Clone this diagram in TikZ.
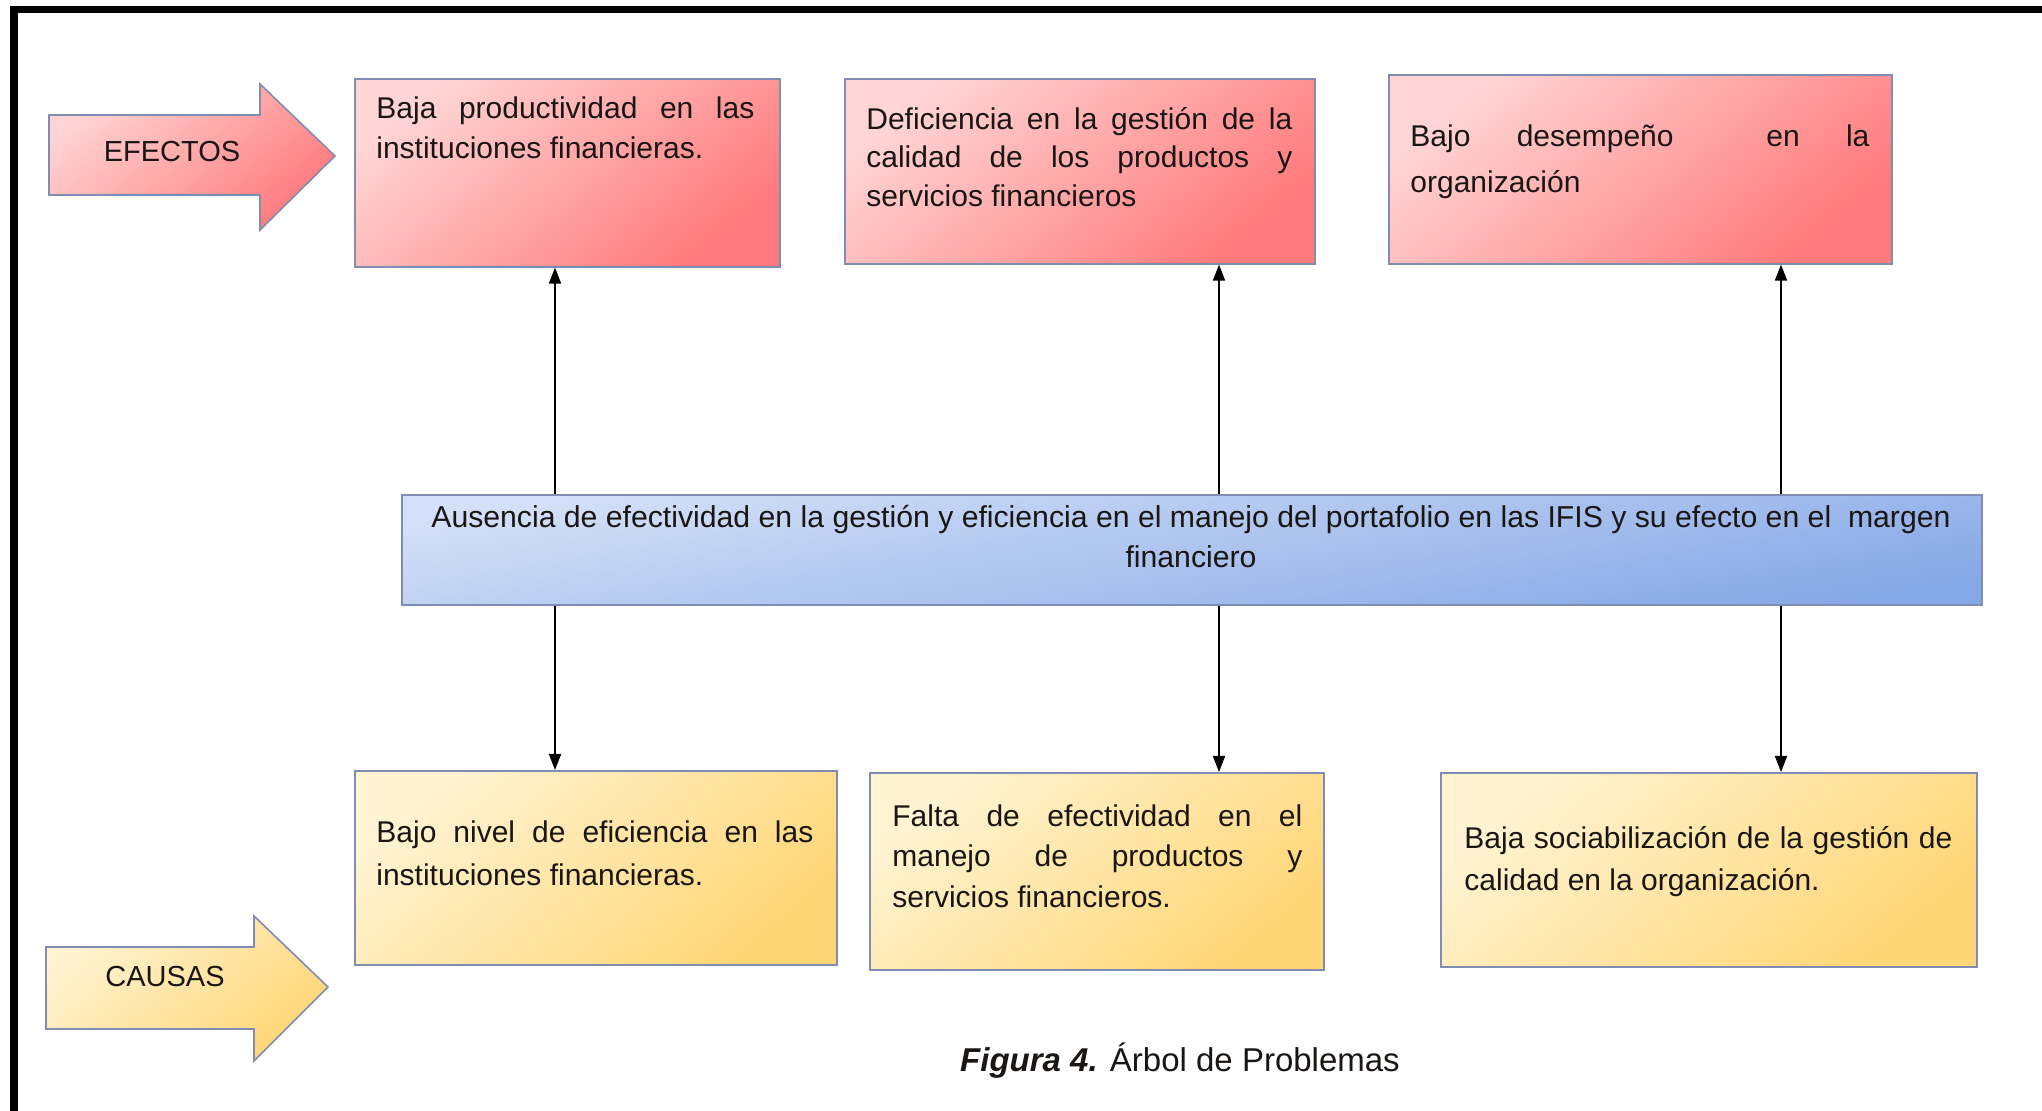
\documentclass[tikz,border=0pt]{standalone}
\usepackage{fontspec}
\setmainfont{Liberation Sans}
\usetikzlibrary{arrows.meta,calc}
\definecolor{pinkL}{RGB}{255,212,212}
\definecolor{pinkD}{RGB}{255,122,124}
\definecolor{blueL}{RGB}{212,224,247}
\definecolor{blueD}{RGB}{134,168,230}
\definecolor{yelL}{RGB}{255,243,210}
\definecolor{yelD}{RGB}{255,214,118}
\definecolor{edge}{RGB}{128,140,178}
\definecolor{ink}{RGB}{25,22,20}
\begin{document}
\begin{tikzpicture}[x=0.5pt,y=-0.5pt,
  boxbase/.style={draw=edge, line width=0.8pt, inner sep=0pt, anchor=north west},
  effbox/.style={boxbase, top color=pinkL, bottom color=pinkD, shading angle=40},
  midbox/.style={boxbase, top color=blueL, bottom color=blueD, shading angle=10},
  caubox/.style={boxbase, top color=yelL, bottom color=yelD, shading angle=40},
  txt/.style={text=ink, inner sep=0pt, anchor=north west, align=justify},
  conn/.style={draw=black, line width=0.85pt, -{Triangle[length=8pt,width=6pt]}},
  bigarrowpink/.style={draw=edge, line width=0.8pt, top color=pinkL, bottom color=pinkD, shading angle=40},
  bigarrowyel/.style={draw=edge, line width=0.8pt, top color=yelL, bottom color=yelD, shading angle=40},
  lbl/.style={text=ink, inner sep=0pt, font=\fontsize{14.5}{17}\selectfont}
]
\useasboundingbox (0,0) rectangle (2042,1111);
% frame (top and left)
\fill[black] (10,6) rectangle (2042,13);
\fill[black] (10,6) rectangle (18,1111);

% big side arrows
\path[bigarrowpink] (49,115) -- (260,115) -- (260,84) -- (335,156) -- (260,230) -- (260,195) -- (49,195) -- cycle;
\node[lbl] (efectos) at (172,152) {EFECTOS};
\path[bigarrowyel] (46,947) -- (254,947) -- (254,916) -- (328,987) -- (254,1061) -- (254,1029) -- (46,1029) -- cycle;
\node[lbl] (causas) at (165,977) {CAUSAS};

% effect boxes
\node[effbox, minimum width=212.5pt, minimum height=94pt] (e1) at (354,78) {};
\node[effbox, minimum width=235pt, minimum height=92.5pt] (e2) at (844,78) {};
\node[effbox, minimum width=251.5pt, minimum height=94.5pt] (e3) at (1388,74) {};
\node[txt, text width=189pt, font=\fontsize{15}{20}\selectfont] (t1) at (376,96)
  {Baja productividad en las\linebreak instituciones financieras.};
\node[txt, text width=213pt, font=\fontsize{15}{19.25}\selectfont] (t2) at (866,107)
  {Deficiencia en la gestión de la\linebreak calidad de los productos y\linebreak servicios financieros};
\node[txt, text width=229.5pt, font=\fontsize{15}{23}\selectfont] (t3) at (1410,124)
  {Bajo desempeño\ \ en la\linebreak organización};

% central problem
\node[midbox, minimum width=790pt, minimum height=55pt] (mid) at (401,494) {};
\node[text=ink, inner sep=0pt, anchor=north, align=center, font=\fontsize{15.1}{20}\selectfont] (tm) at (1191,505)
  {Ausencia de efectividad en la gestión y eficiencia en el manejo del portafolio en las IFIS y su efecto en el\ \ margen\\ financiero};

% cause boxes
\node[caubox, minimum width=241pt, minimum height=97pt] (c1) at (354,770) {};
\node[caubox, minimum width=227pt, minimum height=98.5pt] (c2) at (869,772) {};
\node[caubox, minimum width=268pt, minimum height=97pt] (c3) at (1440,772) {};
\node[txt, text width=218.5pt, font=\fontsize{15}{21.5}\selectfont] (tc1) at (376,820)
  {Bajo nivel de eficiencia en las\linebreak instituciones financieras.};
\node[txt, text width=205pt, font=\fontsize{15}{20.25}\selectfont] (tc2) at (892,804)
  {Falta de efectividad en el\linebreak manejo de productos y\linebreak servicios financieros.};
\node[txt, text width=244pt, font=\fontsize{15}{21}\selectfont] (tc3) at (1464,826)
  {Baja sociabilización de la gestión de\linebreak calidad en la organización.};

% connectors
\coordinate (x1) at (555,0);
\coordinate (x2) at (1219,0);
\coordinate (x3) at (1781,0);
\draw[conn] (x1 |- mid.north) -- (x1 |- e1.south);
\draw[conn] (x2 |- mid.north) -- (x2 |- e2.south);
\draw[conn] (x3 |- mid.north) -- (x3 |- e3.south);
\draw[conn] (x1 |- mid.south) -- (x1 |- c1.north);
\draw[conn] (x2 |- mid.south) -- (x2 |- c2.north);
\draw[conn] (x3 |- mid.south) -- (x3 |- c3.north);

% caption
\node[text=ink, inner sep=0pt, font=\fontsize{16.5}{20}\selectfont] (cap) at (1180,1061)
  {\textbf{\textit{Figura 4.}} Árbol de Problemas};
\end{tikzpicture}
\end{document}
